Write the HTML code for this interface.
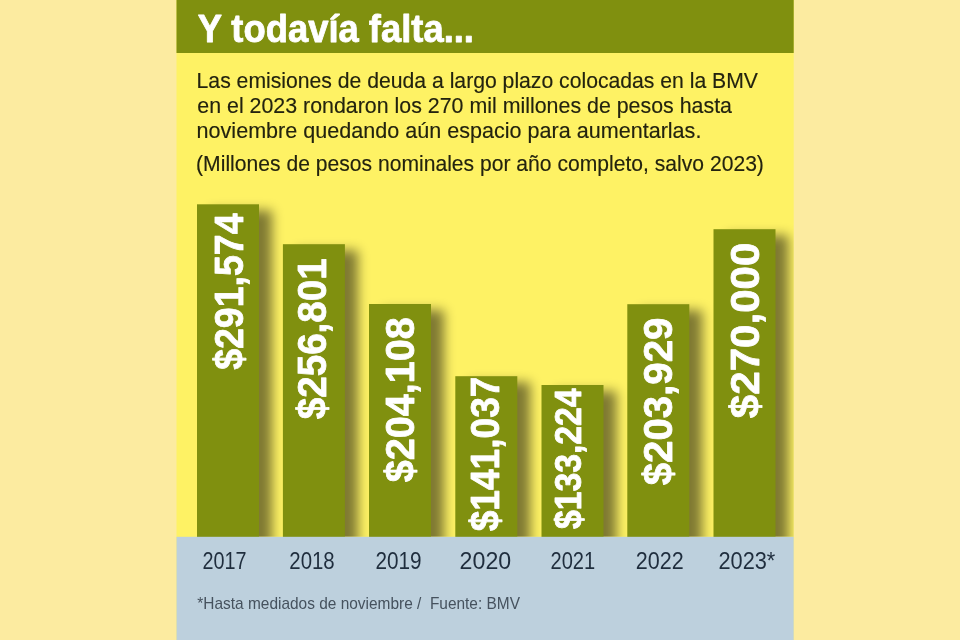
<!DOCTYPE html>
<html lang="es"><head><meta charset="utf-8"><title>Y todavía falta...</title>
<style>
html,body{margin:0;padding:0;background:#FCEBA0;}
body{width:960px;height:640px;overflow:hidden;font-family:"Liberation Sans",sans-serif;}
svg{display:block;}
text{font-family:"Liberation Sans",sans-serif;}
.b{font-weight:bold;fill:#fff;stroke:#fff;stroke-width:0.8px;stroke-linejoin:round;}
.t{fill:#23230f;font-size:21.8px;stroke:#23230f;stroke-width:0.15px;}
.y{fill:#1f2d3d;font-size:23.3px;}
.f{fill:#46525e;font-size:17px;}
</style></head><body>
<svg width="960" height="640" viewBox="0 0 960 640">
<defs>
<filter id="sh" x="-30%" y="-10%" width="180%" height="130%" color-interpolation-filters="sRGB">
<feGaussianBlur in="SourceAlpha" stdDeviation="6"/>
<feOffset dx="12.5" dy="6" result="o"/>
<feComponentTransfer><feFuncA type="linear" slope="0.5"/></feComponentTransfer>
</filter>
<clipPath id="cp"><rect x="176.5" y="53" width="617.2" height="483.8"/></clipPath>
</defs>
<rect width="960" height="640" fill="#FCEBA0"/>
<rect x="176.5" y="0" width="617.2" height="640" fill="#FEF264"/>
<rect x="176.5" y="0" width="617.2" height="53" fill="#80900F"/>

<g clip-path="url(#cp)"><g filter="url(#sh)">
<rect x="197.0" y="204.3" width="62" height="362.5" fill="#000"/>
<rect x="282.9" y="244.2" width="62" height="322.6" fill="#000"/>
<rect x="369.0" y="304.0" width="62" height="262.8" fill="#000"/>
<rect x="455.3" y="376.2" width="62" height="190.6" fill="#000"/>
<rect x="541.5" y="385.0" width="62" height="181.8" fill="#000"/>
<rect x="627.3" y="304.2" width="62" height="262.6" fill="#000"/>
<rect x="713.5" y="229.2" width="62" height="337.6" fill="#000"/>
</g></g>
<rect x="197.0" y="204.3" width="62" height="333.5" fill="#80900F"/>
<rect x="282.9" y="244.2" width="62" height="293.6" fill="#80900F"/>
<rect x="369.0" y="304.0" width="62" height="233.8" fill="#80900F"/>
<rect x="455.3" y="376.2" width="62" height="161.6" fill="#80900F"/>
<rect x="541.5" y="385.0" width="62" height="152.8" fill="#80900F"/>
<rect x="627.3" y="304.2" width="62" height="233.6" fill="#80900F"/>
<rect x="713.5" y="229.2" width="62" height="308.6" fill="#80900F"/>
<rect x="176.5" y="536.8" width="617.2" height="103.2" fill="#BDD0DD"/>
<text x="197.66" y="42.2" class="b" font-size="39" textLength="276.30" lengthAdjust="spacingAndGlyphs">Y todavía falta...</text>
<text x="196.60" y="87.5" class="t" textLength="561.40" lengthAdjust="spacingAndGlyphs">Las emisiones de deuda a largo plazo colocadas en la BMV</text>
<text x="197.30" y="112.5" class="t" textLength="534.70" lengthAdjust="spacingAndGlyphs">en el 2023 rondaron los 270 mil millones de pesos hasta</text>
<text x="196.60" y="137.5" class="t" textLength="504.80" lengthAdjust="spacingAndGlyphs">noviembre quedando aún espacio para aumentarlas.</text>
<text x="196.10" y="171" class="t" textLength="567.80" lengthAdjust="spacingAndGlyphs">(Millones de pesos nominales por año completo, salvo 2023)</text>
<text transform="translate(242.6 369.86) rotate(-90)" class="b" font-size="41.4" textLength="156.36" lengthAdjust="spacingAndGlyphs">$291,574</text>
<text transform="translate(326.4 419.20) rotate(-90)" class="b" font-size="41.4" textLength="160.90" lengthAdjust="spacingAndGlyphs">$256,801</text>
<text transform="translate(413.6 482.20) rotate(-90)" class="b" font-size="41.4" textLength="165.08" lengthAdjust="spacingAndGlyphs">$204,108</text>
<text transform="translate(498.5 531.36) rotate(-90)" class="b" font-size="41.4" textLength="154.76" lengthAdjust="spacingAndGlyphs">$141,037</text>
<text transform="translate(580.9 529.00) rotate(-90)" class="b" font-size="36.6" textLength="140.48" lengthAdjust="spacingAndGlyphs">$133,224</text>
<text transform="translate(671.6 485.34) rotate(-90)" class="b" font-size="41.4" textLength="167.74" lengthAdjust="spacingAndGlyphs">$203,929</text>
<text transform="translate(759.3 418.20) rotate(-90)" class="b" font-size="41.4" textLength="175.60" lengthAdjust="spacingAndGlyphs">$270,000</text>
<text x="202.46" y="569.3" class="y" textLength="44.08" lengthAdjust="spacingAndGlyphs">2017</text>
<text x="289.30" y="569.3" class="y" textLength="45.40" lengthAdjust="spacingAndGlyphs">2018</text>
<text x="375.44" y="569.3" class="y" textLength="46.10" lengthAdjust="spacingAndGlyphs">2019</text>
<text x="459.62" y="569.3" class="y" textLength="51.58" lengthAdjust="spacingAndGlyphs">2020</text>
<text x="550.44" y="569.3" class="y" textLength="44.76" lengthAdjust="spacingAndGlyphs">2021</text>
<text x="635.78" y="569.3" class="y" textLength="47.92" lengthAdjust="spacingAndGlyphs">2022</text>
<text x="718.46" y="569.3" class="y" textLength="56.90" lengthAdjust="spacingAndGlyphs">2023*</text>
<text x="197.30" y="608.7" class="f" textLength="322.70" lengthAdjust="spacingAndGlyphs">*Hasta mediados de noviembre /&#160; Fuente: BMV</text>
</svg></body></html>
